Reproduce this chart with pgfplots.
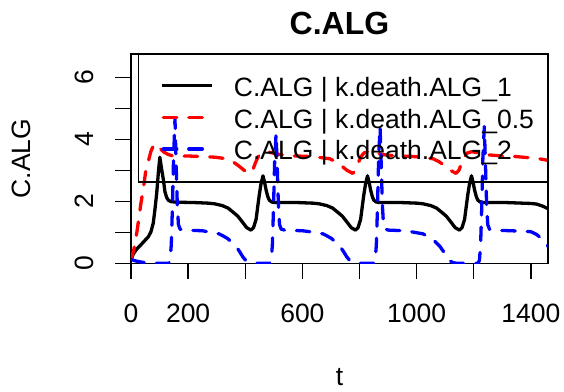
\documentclass[border=0pt]{standalone}
\usepackage{fontspec}
\setmainfont{Liberation Sans}
\usepackage{pgfplots}
\usepackage{pgfplotstable}
\pgfplotsset{compat=1.18}

% C.ALG over time for three values of k.death.ALG
\pgfplotstableread{
t C
0 0.10
8 0.30
20 0.46
31 0.56
45 0.70
61 0.86
70 1.02
78 1.30
84 1.75
90 2.26
96 2.95
101 3.42
107 3.05
113 2.72
119 2.30
125 2.12
131 2.03
140 1.99
160 1.97
220 1.96
270 1.94
292 1.92
320 1.86
340 1.78
356 1.66
374 1.52
391 1.32
405 1.15
420 1.07
429 1.15
438 1.42
444 1.85
449 2.20
455 2.55
462 2.82
468 2.60
473 2.36
479 2.15
484 2.04
492 1.98
502 1.96
580 1.96
636 1.94
658 1.92
686 1.86
706 1.78
722 1.66
740 1.52
757 1.32
771 1.15
786 1.07
795 1.15
804 1.42
810 1.85
815 2.20
821 2.55
828 2.82
834 2.60
839 2.36
845 2.15
850 2.04
858 1.98
868 1.96
944 1.96
1000 1.94
1022 1.92
1050 1.86
1070 1.78
1086 1.66
1104 1.52
1121 1.32
1135 1.15
1150 1.07
1159 1.15
1168 1.42
1174 1.85
1179 2.20
1185 2.55
1192 2.82
1198 2.60
1203 2.36
1209 2.15
1214 2.04
1222 1.98
1232 1.96
1310 1.96
1370 1.94
1400 1.93
1420 1.91
1440 1.85
1460 1.76
}\kdeathone

\pgfplotstableread{
t C
0 0.10
10 0.45
20 0.97
26 1.35
35 1.95
43 2.40
52 3.00
61 3.30
70 3.62
78 3.78
84 3.86
92 3.80
102 3.70
113 3.60
130 3.51
148 3.46
200 3.46
260 3.44
296 3.42
336 3.37
356 3.28
376 3.15
396 3.00
416 2.90
426 3.00
436 3.25
446 3.45
456 3.56
471 3.60
496 3.56
526 3.50
576 3.46
620 3.45
656 3.42
696 3.37
716 3.28
736 3.15
756 3.00
776 2.90
786 3.00
796 3.25
806 3.45
816 3.56
831 3.60
856 3.56
886 3.50
936 3.46
980 3.45
1018 3.42
1058 3.37
1078 3.28
1098 3.15
1118 3.00
1138 2.90
1148 3.00
1158 3.25
1168 3.45
1178 3.56
1193 3.60
1218 3.56
1248 3.50
1298 3.46
1350 3.44
1400 3.40
1430 3.37
1460 3.32
}\kdeathhalf

\pgfplotstableread{
t C
0 0.12
15 0.08
35 0.04
60 0.01
90 0.00
132 0.00
137 0.10
141 0.60
145 1.80
149 3.40
154 4.65
158 3.20
162 1.90
166 1.25
172 1.10
184 1.07
250 1.05
278 1.00
308 0.95
323 0.88
338 0.80
353 0.68
368 0.54
380 0.38
392 0.20
403 0.08
413 0.02
428 0.00
486 0.00
491 0.10
495 0.60
499 1.80
503 3.30
508 4.19
512 3.10
516 1.90
520 1.25
526 1.10
538 1.07
600 1.05
642 1.00
672 0.95
687 0.88
702 0.80
717 0.68
732 0.54
744 0.38
756 0.20
767 0.08
777 0.02
792 0.00
850 0.00
855 0.10
859 0.60
863 1.80
867 3.40
872 4.41
876 3.20
880 1.90
884 1.25
890 1.10
902 1.07
960 1.05
992 1.00
1022 0.95
1037 0.88
1052 0.80
1067 0.68
1082 0.54
1094 0.38
1106 0.20
1117 0.08
1127 0.02
1142 0.00
1215 0.00
1220 0.10
1224 0.60
1228 1.80
1232 3.40
1237 4.41
1241 3.20
1245 1.90
1249 1.25
1255 1.10
1267 1.07
1330 1.05
1400 1.02
1420 0.93
1440 0.78
1460 0.55
}\kdeathtwo

\newcommand{\basefont}{\fontsize{26.5}{31}\selectfont}
\tikzset{dashline/.style={line width=3.3pt, dash pattern=on 13.5pt off 12pt, line cap=round, line join=round}}

\begin{document}
\begin{tikzpicture}
\useasboundingbox (0pt,0pt) rectangle (564pt,391pt);
\begin{axis}[
  at={(131pt,127.7pt)}, anchor=south west,
  width=417pt, height=209.3pt, scale only axis,
  xmin=0, xmax=1460, ymin=0, ymax=6.75,
  axis line style={line width=1.4pt},
  tick style={line width=1.4pt, black},
  tick align=outside,
  major tick length=15.5pt,
  xtick pos=bottom, ytick pos=left,
  xtick={0,200,...,1400},
  xticklabels={0,200,,600,,1000,,1400},
  ytick={0,1,2,3,4,5,6},
  yticklabels={0,,2,,4,,6},
  ticklabel style={font=\basefont},
  xticklabel style={anchor=base, yshift=-43.4pt},
  yticklabel style={rotate=90, anchor=base, yshift=22pt},
  /pgf/number format/assume math mode=true,
]
\addplot[black, line width=3.3pt, line join=round] table[x=t, y=C] {\kdeathone};
\addplot[red, dashline] table[x=t, y=C] {\kdeathhalf};
\addplot[blue, dashline] table[x=t, y=C] {\kdeathtwo};
\end{axis}

% legend
\draw[line width=1.4pt] (138.3pt,209pt) rectangle (548pt,337pt);
\draw[black, line width=3.3pt] (161.7pt,305.3pt) -- (211.7pt,305.3pt);
\draw[red, dashline] (163.3pt,273.7pt) -- (211pt,273.7pt);
\draw[blue, dashline] (163.3pt,242pt) -- (211pt,242pt);
\node[anchor=base west, inner sep=0pt, font=\basefont] at (233.7pt,294.3pt) {C.ALG | k.death.ALG\_1};
\node[anchor=base west, inner sep=0pt, font=\basefont] at (233.7pt,262.7pt) {C.ALG | k.death.ALG\_0.5};
\node[anchor=base west, inner sep=0pt, font=\basefont] at (233.7pt,231.1pt) {C.ALG | k.death.ALG\_2};

% titles
\node[anchor=base, inner sep=0pt, font=\bfseries\fontsize{32}{38}\selectfont] at (339.5pt,356pt) {C.ALG};
\node[anchor=base, inner sep=0pt, rotate=90, font=\basefont] at (30.7pt,232.3pt) {C.ALG};
\node[anchor=base, inner sep=0pt, font=\basefont] at (339.5pt,6pt) {t};
\end{tikzpicture}
\end{document}
